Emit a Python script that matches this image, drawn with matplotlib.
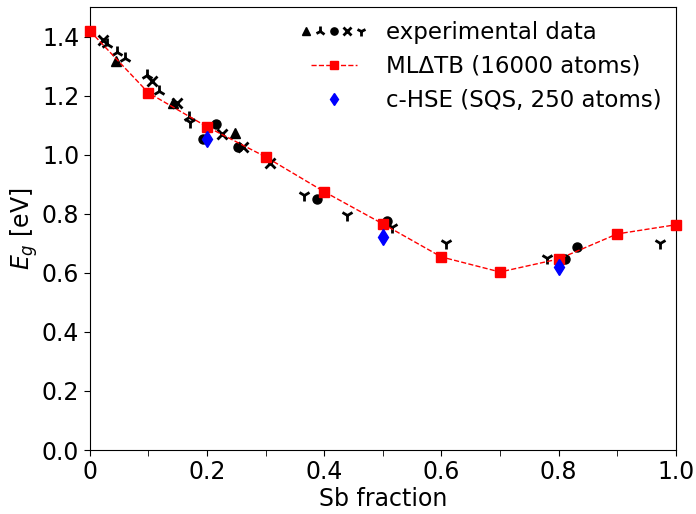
import numpy as np
import matplotlib
matplotlib.use('Agg')
from matplotlib import pyplot as plt
from matplotlib.legend_handler import HandlerTuple

plt.rcParams['font.family'] = ['DejaVu Sans']

# ML-dTB curve (16000 atoms)
ml_x = [0.0, 0.1, 0.2, 0.3, 0.4, 0.5, 0.6, 0.7, 0.8, 0.9, 1.0]
ml_y = [1.42, 1.21, 1.095, 0.993, 0.875, 0.766, 0.654, 0.603, 0.647, 0.732, 0.763]

# c-HSE (SQS)
hse_x = [0.2, 0.5, 0.8]
hse_y = [1.054, 0.722, 0.62]

# experimental data, one list per marker
tri_x = [0.044, 0.142, 0.247]
tri_y = [1.319, 1.176, 1.075]

triup_x = [0.029, 0.046, 0.060, 0.097, 0.118, 0.169]
triup_y = [1.376, 1.349, 1.329, 1.271, 1.217, 1.127]

circ_x = [0.193, 0.215, 0.253, 0.387, 0.507, 0.811, 0.831]
circ_y = [1.054, 1.105, 1.027, 0.851, 0.776, 0.647, 0.688]

cross_x = [0.022, 0.106, 0.148, 0.225, 0.261, 0.307]
cross_y = [1.39, 1.251, 1.176, 1.071, 1.027, 0.973]

trid_x = [0.171, 0.365, 0.439, 0.515, 0.607, 0.780, 0.973]
trid_y = [1.112, 0.864, 0.797, 0.756, 0.702, 0.651, 0.702]

fig = plt.figure(figsize=(6.96, 5.14), dpi=100)
ax = fig.add_axes([0.129, 0.1245, 0.842, 0.8615])

kw = dict(color='k', linestyle='none')
h1, = ax.plot(tri_x, tri_y, marker='^', markersize=7, **kw)
h2, = ax.plot(triup_x, triup_y, marker='2', markersize=9, markeredgewidth=2, **kw)
h3, = ax.plot(circ_x, circ_y, marker='o', markersize=6.5, **kw)
h4, = ax.plot(cross_x, cross_y, marker='x', markersize=7, markeredgewidth=2, **kw)
h5, = ax.plot(trid_x, trid_y, marker='1', markersize=9, markeredgewidth=2, **kw)

hml, = ax.plot(ml_x, ml_y, color='red', linestyle='--', linewidth=1, marker='s',
               markersize=7, clip_on=False, zorder=5)
hhse, = ax.plot(hse_x, hse_y, color='blue', linestyle='none', marker='d', markersize=8, zorder=6)

ax.set_xlim(0, 1.0)
ax.set_ylim(0, 1.5)
ax.set_xticks([0, 0.2, 0.4, 0.6, 0.8, 1.0])
ax.set_xticklabels(['0', '0.2', '0.4', '0.6', '0.8', '1.0'])
ax.set_xticks(np.arange(0.1, 1.0, 0.2), minor=True)
ax.set_yticks(np.arange(0, 1.41, 0.2))
ax.tick_params(axis='both', which='both', labelsize=17, length=4)

ax.set_xlabel('Sb fraction', fontsize=17, labelpad=2)
ax.set_ylabel('$E_g$ [eV]', fontsize=17, labelpad=1)

leg = ax.legend([(h1, h2, h3, h4, h5), hml, hhse],
                ['experimental data', 'ML\u0394TB (16000 atoms)', 'c-HSE (SQS, 250 atoms)'],
                handler_map={tuple: HandlerTuple(ndivide=None, pad=1.0)},
                loc='upper right', frameon=False, fontsize=16.5,
                labelspacing=0.48, handletextpad=1.3, borderaxespad=0.2,
                markerscale=0.8)

plt.savefig('out.png', dpi=100)
